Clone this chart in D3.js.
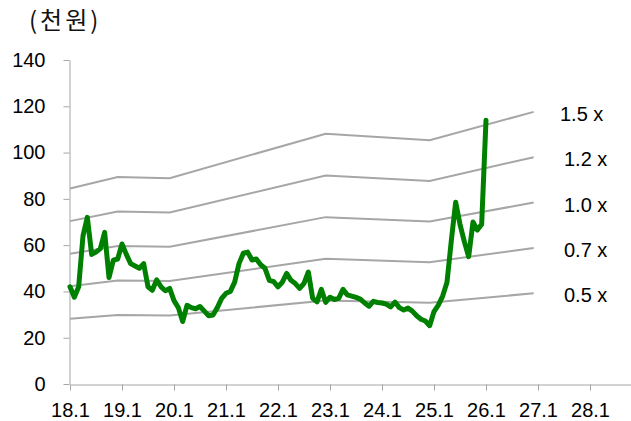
<!DOCTYPE html>
<html>
<head>
<meta charset="utf-8">
<script src="https://cdn.jsdelivr.net/npm/d3@7"></script>
<style>
  body { margin: 0; background: #fff; }
  svg { display: block; font-family: "Liberation Sans", Arial, sans-serif; }
</style>
</head>
<body>
<svg id="chart" width="631" height="421"></svg>
<script>
// month index 0 = 18.1
const tickMonths = [0, 12, 24, 36, 48, 60, 72, 84, 96, 108, 120];
const tickLabels = ["18.1", "19.1", "20.1", "21.1", "22.1", "23.1", "24.1", "25.1", "26.1", "27.1", "28.1"];
const yTicks = [0, 20, 40, 60, 80, 100, 120, 140];

// monthly price (천원), 18.1 .. 26.1
const price = [
  42, 37.5, 42, 64, 72, 56, 57, 58.5, 65.5, 46, 53.5, 54,
  60.5, 56, 52, 51, 50, 52, 42, 40.5, 45, 42, 40.3, 41.3,
  36, 33, 27, 34, 33, 32.5, 33.5, 31.5, 29.5, 29.8, 33, 37,
  39.2, 40, 44, 52, 56.5, 57, 53.6, 54, 51.5, 50, 44.8, 44.2,
  42, 44, 47.8, 44.8, 43.4, 41.3, 43.5, 48.4, 37, 35.5, 40.9, 35.3,
  37.5, 36.5, 37, 40.9, 38.5, 38, 37.4, 36.7, 35, 33.6, 35.7, 35.2,
  35, 34.5, 33.3, 35.4, 33, 32, 32.8, 31.5, 29.5, 28, 27.2, 25.2,
  31.3, 34.1, 38, 44, 62, 78.5, 69, 61.5, 55, 70, 66.5, 69,
  114
];

// band base (1.0x) at year-end points
const bandMonths = [0, 11, 23, 59, 83, 107];
const bandBase = [56.3, 59.6, 59.3, 72.1, 70.2, 78.4];
const multiples = [0.5, 0.75, 1.0, 1.25, 1.5];
const bandLabels = ["0.5 x", "0.7 x", "1.0 x", "1.2 x", "1.5 x"];

const svg = d3.select("#chart");

const x = d3.scaleLinear().domain([0, 132]).range([70, 642]);
const y = d3.scaleLinear().domain([0, 140]).range([384, 60]);

// unit label
svg.append("text")
    .attr("x", 29)
    .attr("y", 29)
    .style("font-family", "'Noto Sans CJK KR', sans-serif")
    .style("font-size", "24px")
    .style("letter-spacing", "3px")
    .style("fill", "#111")
    .text("(천원)");

// axes
const yAxis = svg.append("g")
    .attr("transform", "translate(69.5,0)")
    .call(d3.axisLeft(y).tickValues(yTicks).tickSize(6).tickSizeOuter(0).tickPadding(18));

const xAxis = svg.append("g")
    .attr("transform", "translate(0,384.5)")
    .call(d3.axisBottom(x).tickValues(tickMonths)
        .tickFormat((d, i) => tickLabels[i])
        .tickSize(6).tickSizeOuter(0).tickPadding(12));

[yAxis, xAxis].forEach(a => {
    a.selectAll("path, line").attr("stroke", "#a6a6a6");
    a.selectAll("text")
        .style("font-family", "'Liberation Sans', Arial, sans-serif")
        .style("font-size", "20px")
        .attr("fill", "#000");
});

// PBR bands
const bandLine = d3.line()
    .x(d => x(d[0]))
    .y(d => y(d[1]));

multiples.forEach((m, i) => {
    const pts = bandMonths.map((mm, j) => [mm, bandBase[j] * m]);
    svg.append("path")
        .attr("d", bandLine(pts))
        .attr("fill", "none")
        .attr("stroke", "#a6a6a6")
        .attr("stroke-width", 2);

    svg.append("text")
        .attr("x", i === 4 ? 560 : 564)
        .attr("y", y(pts[pts.length - 1][1]) + 2)
        .attr("dy", "0.35em")
        .style("font-size", "20px")
        .text(bandLabels[i]);
});

// price line
const priceLine = d3.line()
    .x((d, i) => x(i))
    .y(d => y(d));

svg.append("path")
    .attr("d", priceLine(price))
    .attr("fill", "none")
    .attr("stroke", "#008000")
    .attr("stroke-width", 5)
    .attr("stroke-linejoin", "round")
    .attr("stroke-linecap", "round");
</script>
</body>
</html>
